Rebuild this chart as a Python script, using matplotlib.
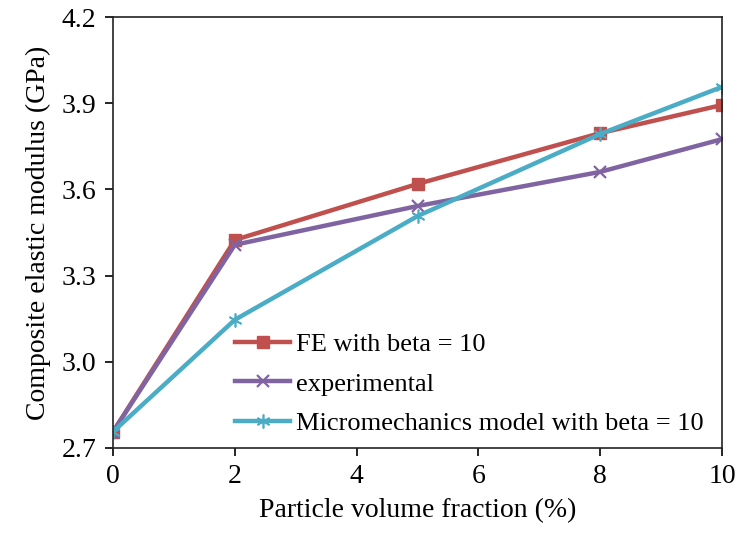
import matplotlib.pyplot as plt

plt.rcParams['font.family'] = ['Liberation Serif', 'DejaVu Serif']

# Data
volume_fraction = [0, 2, 5, 8, 10]
fe_beta10 = [2.756, 3.424, 3.619, 3.796, 3.894]
experimental = [2.756, 3.407, 3.542, 3.661, 3.775]
micromech_beta10 = [2.756, 3.146, 3.507, 3.793, 3.957]

fig = plt.figure(figsize=(7.39, 5.35), dpi=100)
ax = fig.add_axes([0.153, 0.163, 0.824, 0.805])

ax.plot(volume_fraction, fe_beta10, color='#C0504D', lw=3.2, marker='s', ms=9,
        label='FE with beta = 10')
ax.plot(volume_fraction, experimental, color='#8064A2', lw=3.2, marker='x', ms=9,
        mew=1.6, label='experimental')
ax.plot(volume_fraction, micromech_beta10, color='#4BACC6', lw=3.2, marker=(6, 2, 0),
        ms=10, mew=1.2, label='Micromechanics model with beta = 10')

ax.set_xlim(0, 10)
ax.set_ylim(2.7, 4.2)
ax.set_xticks([0, 2, 4, 6, 8, 10])
ax.set_yticks([2.7, 3.0, 3.3, 3.6, 3.9, 4.2])
ax.set_yticklabels(['2.7', '3.0', '3.3', '3.6', '3.9', '4.2'])
ax.tick_params(labelsize=20, direction='out', length=6, width=1.2, pad=6)
for s in ax.spines.values():
    s.set_linewidth(1.2)
    s.set_color('#222222')

ax.set_xlabel('Particle volume fraction (%)', fontsize=20, labelpad=6)
ax.set_ylabel('Composite elastic modulus (GPa)', fontsize=20, labelpad=8)

ax.legend(loc='lower left', bbox_to_anchor=(0.2, 0.03), frameon=False, fontsize=19,
          handlelength=2.1, handletextpad=0.2, labelspacing=0.6,
          borderaxespad=0, borderpad=0)

fig.savefig('out.png', dpi=100)
